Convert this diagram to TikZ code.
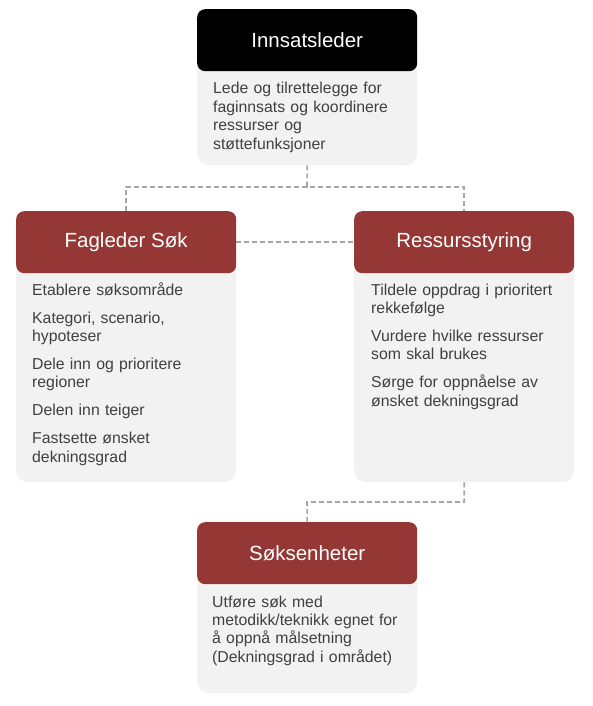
\documentclass[tikz,border=0pt]{standalone}
\usepackage{fontspec}
\setmainfont{Liberation Sans}
\definecolor{hdrred}{HTML}{953735}
\definecolor{bodygray}{HTML}{F2F2F2}
\definecolor{txtgray}{HTML}{404040}
\definecolor{conngray}{HTML}{A6A6A6}
\tikzset{
  hdr/.style={rectangle, rounded corners=8pt, minimum width=220pt, minimum height=62pt,
    anchor=north west, inner sep=0pt, text=white, font=\fontsize{20.5}{24}\selectfont},
  bodybox/.style={rectangle, rounded corners=12pt, fill=bodygray, minimum width=220pt,
    anchor=north west, inner sep=0pt},
  bodytext/.style={anchor=base west, inner sep=0pt, text width=200pt, align=left,
    text=txtgray, font=\fontsize{15.8}{18.4}\selectfont},
  conn/.style={draw=conngray, line width=1.6pt, dash pattern=on 5pt off 3pt}
}
\begin{document}
\begin{tikzpicture}[x=1pt,y=-1pt]
\useasboundingbox (0,0) rectangle (592,706);
% body boxes
\node[bodybox, minimum height=125pt] (ib) at (197,40) {};
\node[bodybox, minimum height=240pt] (fb) at (16,242) {};
\node[bodybox, minimum height=240pt] (rb) at (354,242) {};
\node[bodybox, minimum height=140pt] (sb) at (197,553) {};
% headers
\node[hdr, fill=black] (ih) at (197,9) {Innsatsleder};
\node[hdr, fill=hdrred] (fh) at (16,211) {Fagleder Søk};
\node[hdr, fill=hdrred] (rh) at (354,211) {Ressursstyring};
\node[hdr, fill=hdrred] (sh) at (197,522) {Søksenheter};
% texts
\node[bodytext] (it) at (213,94) {Lede og tilrettelegge for\\faginnsats og koordinere\\ressurser og\\støttefunksjoner};
\node[bodytext] (ft) at (32,295) {Etablere søksområde\\[9.6pt]Kategori, scenario,\\hypoteser\\[9.6pt]Dele inn og prioritere\\regioner\\[9.6pt]Delen inn teiger\\[9.6pt]Fastsette ønsket\\dekningsgrad};
\node[bodytext] (rt) at (371,295) {Tildele oppdrag i prioritert\\rekkefølge\\[9.6pt]Vurdere hvilke ressurser\\som skal brukes\\[9.6pt]Sørge for oppnåelse av\\ønsket dekningsgrad};
\node[bodytext] (st) at (212,607) {Utføre søk med\\metodikk/teknikk egnet for\\å oppnå målsetning\\(Dekningsgrad i området)};
% connectors
\coordinate (j1) at (307,187);
\coordinate (j2) at (307,502);
\draw[conn] (ib.south) -- (j1);
\draw[conn] (fh.north) |- (j1) -| (rh.north);
\draw[conn] (fh.east) -- (rh.west);
\draw[conn] (rb.south) |- (j2) -- (sh.north);
\end{tikzpicture}
\end{document}
